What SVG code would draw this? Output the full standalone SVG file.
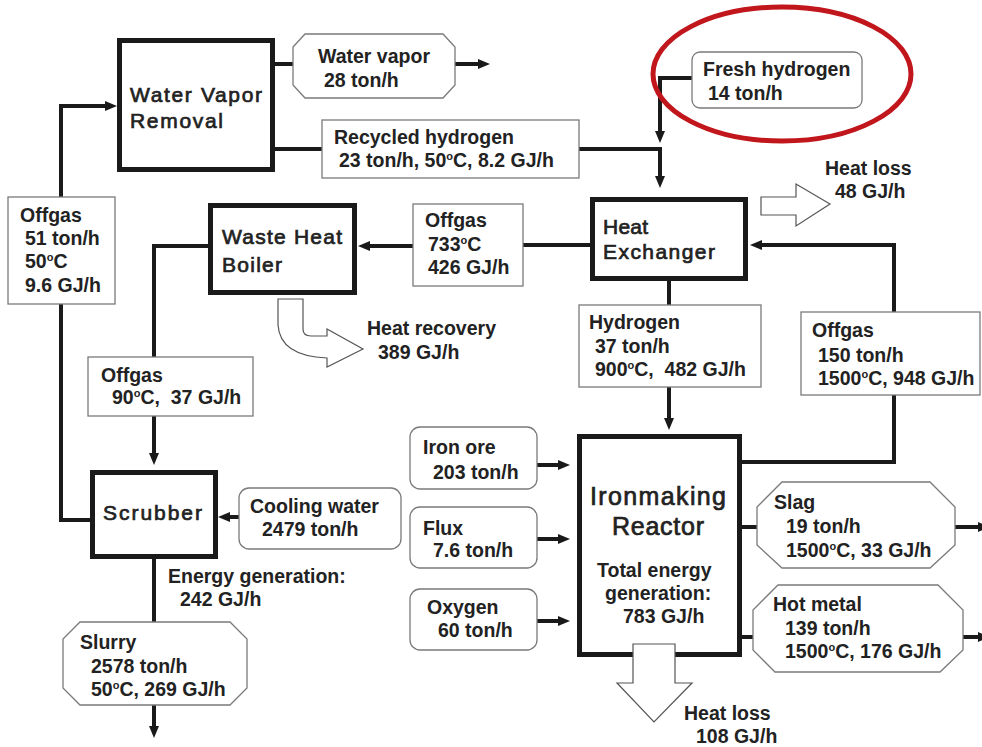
<svg xmlns="http://www.w3.org/2000/svg" width="982" height="747" viewBox="0 0 982 747">
<style>
.node{fill:#fff;stroke:#1a1a1a;stroke-width:5}
.lbl{fill:#fff;stroke:#7a7a7a;stroke-width:1.3}
.t{font-family:"Liberation Sans",Arial,sans-serif;font-weight:bold;font-size:19.5px;fill:#222;white-space:pre}
.tt{font-family:"Liberation Sans",Arial,sans-serif;font-size:21px;fill:#222;stroke:#222;stroke-width:0.7}
.big{font-size:25px}
.c{fill:none;stroke:#1a1a1a;stroke-width:4}
.hollow{fill:#fff;stroke:#555;stroke-width:1.2}
.sup{font-size:11px}
</style>
<defs>
<marker id="ah" viewBox="0 0 12 10" markerWidth="12" markerHeight="10" refX="2" refY="5" orient="auto" markerUnits="userSpaceOnUse">
<path d="M0,0 L12,5 L0,10 z" fill="#1a1a1a"/>
</marker>
</defs>

<g id="connectors">
<path class="c" d="M275,64 H293"/>
<path class="c" d="M455,64 H480" marker-end="url(#ah)"/>
<path class="c" d="M275,149 H322"/>
<path class="c" d="M579,149 H660 V178" marker-end="url(#ah)"/>
<path class="c" d="M692,78 H660 V133" marker-end="url(#ah)"/>
<path class="c" d="M590,245 H523"/>
<path class="c" d="M413,246 H368" marker-end="url(#ah)"/>
<path class="c" d="M208,246 H154 V357"/>
<path class="c" d="M154,416 V455" marker-end="url(#ah)"/>
<path class="c" d="M61,197 V106 H107" marker-end="url(#ah)"/>
<path class="c" d="M61,304 V520 H90"/>
<path class="c" d="M239,517 H228" marker-end="url(#ah)"/>
<path class="c" d="M154,559 V622"/>
<path class="c" d="M154,705 V728" marker-end="url(#ah)"/>
<path class="c" d="M669,281 V305"/>
<path class="c" d="M669,387 V420" marker-end="url(#ah)"/>
<path class="c" d="M742,462 H894 V395"/>
<path class="c" d="M894,312 V245 H760" marker-end="url(#ah)"/>
<path class="c" d="M537,465 H560" marker-end="url(#ah)"/>
<path class="c" d="M537,539 H560" marker-end="url(#ah)"/>
<path class="c" d="M537,621 H560" marker-end="url(#ah)"/>
<path class="c" d="M742,527 H757"/>
<path class="c" d="M955,527 H980" marker-end="url(#ah)"/>
<path class="c" d="M742,637 H753"/>
<path class="c" d="M963,637 H980" marker-end="url(#ah)"/>
</g>

<g id="water-vapor-removal">
<rect class="node" x="119.5" y="40.5" width="153" height="129"/>
<text class="tt" x="130" y="102" textLength="132">Water Vapor</text>
<text class="tt" x="130" y="128" textLength="93">Removal</text>
</g>

<g id="water-vapor">
<polygon class="lbl" points="305,34 443,34 455,47 455,85 443,98 305,98 293,85 293,47"/>
<text class="t" x="318" y="63">Water vapor</text>
<text class="t" x="324" y="87">28 ton/h</text>
</g>

<g id="recycled-hydrogen">
<rect class="lbl" x="322" y="120" width="257" height="58"/>
<text class="t" x="334" y="144">Recycled hydrogen</text>
<text class="t" x="339" y="167">23 ton/h, 50<tspan class="sup" dy="-7">o</tspan><tspan dy="7">C, 8.2 GJ/h</tspan></text>
</g>

<g id="fresh-hydrogen">
<rect class="lbl" x="692" y="52" width="170" height="56" rx="8"/>
<text class="t" x="703" y="76">Fresh hydrogen</text>
<text class="t" x="708" y="100">14 ton/h</text>
</g>

<ellipse id="highlight" cx="782" cy="74" rx="129" ry="67" fill="none" stroke="#c0161c" stroke-width="5"/>

<g id="heat-loss-top">
<polygon class="hollow" points="761,197 796,197 796,184 830,204 796,226 796,215 761,215"/>
<text class="t" x="825" y="175">Heat loss</text>
<text class="t" x="835" y="198">48 GJ/h</text>
</g>

<g id="heat-exchanger">
<rect class="node" x="592.5" y="199.5" width="153" height="79"/>
<text class="tt" x="603" y="234" textLength="45">Heat</text>
<text class="tt" x="603" y="259" textLength="112">Exchanger</text>
</g>

<g id="offgas-733">
<rect class="lbl" x="413" y="204" width="110" height="82"/>
<text class="t" x="425" y="227">Offgas</text>
<text class="t" x="428" y="251">733<tspan class="sup" dy="-7">o</tspan><tspan dy="7">C</tspan></text>
<text class="t" x="428" y="274">426 GJ/h</text>
</g>

<g id="waste-heat-boiler">
<rect class="node" x="210.5" y="205.5" width="144" height="87"/>
<text class="tt" x="222" y="244" textLength="120">Waste Heat</text>
<text class="tt" x="222" y="272" textLength="60">Boiler</text>
</g>

<g id="heat-recovery">
<path class="hollow" d="M278,299 H303 V329 Q303,336 311,336 H327 V329 L363,349 L327,367 V358 Q280,356 278,325 Z"/>
<text class="t" x="367" y="335">Heat recovery</text>
<text class="t" x="378" y="359">389 GJ/h</text>
</g>

<g id="offgas-51">
<rect class="lbl" x="8" y="197" width="107" height="107"/>
<text class="t" x="20" y="222">Offgas</text>
<text class="t" x="25" y="245">51 ton/h</text>
<text class="t" x="25" y="268">50<tspan class="sup" dy="-7">o</tspan><tspan dy="7">C</tspan></text>
<text class="t" x="25" y="292">9.6 GJ/h</text>
</g>

<g id="offgas-90">
<rect class="lbl" x="88" y="357" width="165" height="59"/>
<text class="t" x="101" y="382">Offgas</text>
<text class="t" x="112" y="404">90<tspan class="sup" dy="-7">o</tspan><tspan dy="7">C,  37 GJ/h</tspan></text>
</g>

<g id="hydrogen">
<rect class="lbl" x="579" y="305" width="182" height="82"/>
<text class="t" x="589" y="329">Hydrogen</text>
<text class="t" x="595" y="353">37 ton/h</text>
<text class="t" x="595" y="376">900<tspan class="sup" dy="-7">o</tspan><tspan dy="7">C,  482 GJ/h</tspan></text>
</g>

<g id="offgas-150">
<rect class="lbl" x="801" y="312" width="179" height="83"/>
<text class="t" x="812" y="337">Offgas</text>
<text class="t" x="818" y="362">150 ton/h</text>
<text class="t" x="818" y="385">1500<tspan class="sup" dy="-7">o</tspan><tspan dy="7">C, 948 GJ/h</tspan></text>
</g>

<g id="scrubber">
<rect class="node" x="92.5" y="472.5" width="123" height="84"/>
<text class="tt" x="103" y="520" textLength="99">Scrubber</text>
</g>

<g id="cooling-water">
<rect class="lbl" x="239" y="488" width="162" height="61" rx="10"/>
<text class="t" x="250" y="513">Cooling water</text>
<text class="t" x="262" y="536">2479 ton/h</text>
</g>

<g id="energy-generation">
<text class="t" x="168" y="583">Energy generation:</text>
<text class="t" x="180" y="606">242 GJ/h</text>
</g>

<g id="slurry">
<polygon class="lbl" points="80,622 230,622 247,639 247,688 230,705 80,705 63,688 63,639"/>
<text class="t" x="80" y="649">Slurry</text>
<text class="t" x="91" y="673">2578 ton/h</text>
<text class="t" x="91" y="696">50<tspan class="sup" dy="-7">o</tspan><tspan dy="7">C, 269 GJ/h</tspan></text>
</g>

<g id="iron-ore">
<rect class="lbl" x="410" y="427" width="127" height="62" rx="10"/>
<text class="t" x="423" y="454">Iron ore</text>
<text class="t" x="433" y="479">203 ton/h</text>
</g>

<g id="flux">
<rect class="lbl" x="410" y="507" width="127" height="61" rx="10"/>
<text class="t" x="423" y="535">Flux</text>
<text class="t" x="433" y="557">7.6 ton/h</text>
</g>

<g id="oxygen">
<rect class="lbl" x="410" y="589" width="127" height="61" rx="10"/>
<text class="t" x="427" y="614">Oxygen</text>
<text class="t" x="438" y="637">60 ton/h</text>
</g>

<g id="ironmaking-reactor">
<rect class="node" x="579.5" y="436.5" width="160" height="218"/>
<text class="tt big" x="590" y="505" textLength="136">Ironmaking</text>
<text class="tt big" x="612" y="535" textLength="92">Reactor</text>
<text class="t" x="597" y="577">Total energy</text>
<text class="t" x="605" y="600">generation:</text>
<text class="t" x="623" y="623">783 GJ/h</text>
</g>

<g id="heat-loss-bottom">
<polygon class="hollow" points="633,644 675,644 675,683 692,683 654,722 617,683 633,683"/>
<text class="t" x="684" y="720">Heat loss</text>
<text class="t" x="696" y="743">108 GJ/h</text>
</g>

<g id="slag">
<polygon class="lbl" points="782,482 930,482 955,507 955,545 930,568 782,568 757,545 757,507"/>
<text class="t" x="774" y="509">Slag</text>
<text class="t" x="786" y="533">19 ton/h</text>
<text class="t" x="786" y="557">1500<tspan class="sup" dy="-7">o</tspan><tspan dy="7">C, 33 GJ/h</tspan></text>
</g>

<g id="hot-metal">
<polygon class="lbl" points="778,585 938,585 963,610 963,650 940,672 775,672 753,650 753,610"/>
<text class="t" x="773" y="611">Hot metal</text>
<text class="t" x="785" y="635">139 ton/h</text>
<text class="t" x="785" y="658">1500<tspan class="sup" dy="-7">o</tspan><tspan dy="7">C, 176 GJ/h</tspan></text>
</g>
</svg>
